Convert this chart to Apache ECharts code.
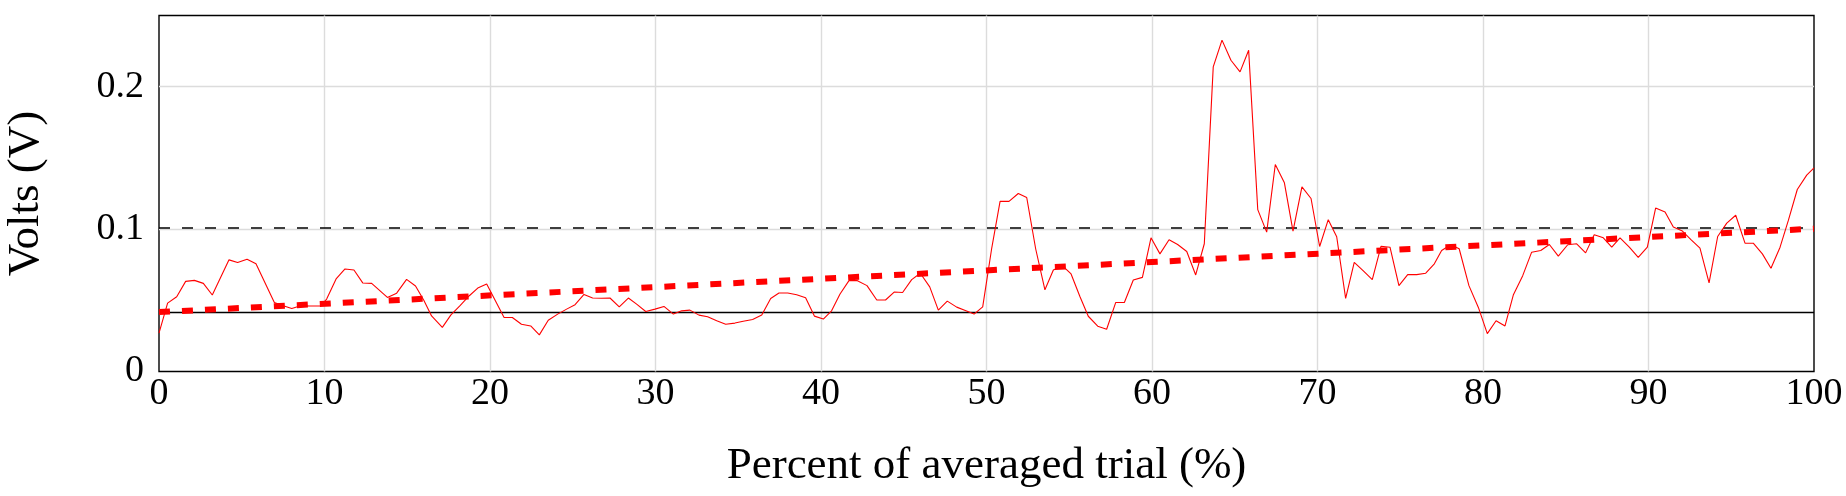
<!DOCTYPE html>
<html>
<head>
<meta charset="utf-8">
<script src="https://cdn.jsdelivr.net/npm/echarts@6/dist/echarts.min.js"></script>
<style>
html,body{margin:0;padding:0;background:#fff;}
#chart{width:1846px;height:496px;}
</style>
</head>
<body>
<div id="chart"></div>
<script>
// Percent of averaged trial (%)
const xs = [0,0.52,1.07,1.61,2.14,2.68,3.22,4.23,4.75,5.32,5.86,6.97,7.51,8.02,8.56,9.1,9.77,10.13,10.7,11.24,11.78,12.31,12.85,13.8,14.36,14.96,15.5,16.0,16.47,17.12,17.64,18.19,18.75,19.26,19.8,20.85,21.35,21.9,22.46,22.98,23.52,24.09,24.63,25.14,25.68,26.2,26.75,27.25,27.81,28.36,28.86,29.41,29.97,30.51,31.08,31.58,32.08,32.63,33.15,33.7,34.24,34.8,35.3,35.87,36.42,36.96,37.46,37.99,38.53,39.07,39.6,40.14,40.64,41.15,41.69,42.2,42.78,43.37,43.9,44.42,44.93,45.48,46.0,46.57,47.09,47.63,48.2,48.72,49.25,49.77,50.31,50.82,51.36,51.92,52.43,52.97,53.53,54.04,54.58,55.11,55.65,56.15,56.72,57.26,57.81,58.33,58.87,59.42,59.94,60.48,61.03,61.55,62.1,62.64,63.16,63.7,64.23,64.77,65.32,65.84,66.39,66.93,67.45,68.0,68.52,69.06,69.61,70.13,70.65,71.16,71.7,72.22,72.77,73.31,73.84,74.38,74.92,75.45,75.99,76.54,77.06,77.5,78.05,78.56,79.15,79.72,80.26,80.79,81.33,81.83,82.4,82.94,83.49,84.01,84.55,85.12,85.66,86.2,86.72,87.27,87.78,88.28,88.84,89.38,89.93,90.43,91.0,91.5,92.05,92.58,93.11,93.66,94.18,94.73,95.27,95.83,96.33,96.88,97.4,97.95,98.45,98.99,99.56,100];
// Volts (V)
const volts = [0.027,0.048,0.0525,0.0633,0.064,0.0619,0.0537,0.0784,0.0765,0.0788,0.0756,0.0485,0.0462,0.0443,0.0462,0.046,0.046,0.0509,0.065,0.072,0.0713,0.0622,0.0619,0.052,0.055,0.0647,0.060,0.050,0.039,0.031,0.0398,0.0462,0.0532,0.0586,0.0615,0.0379,0.0379,0.0332,0.032,0.0257,0.036,0.0403,0.0438,0.0469,0.0541,0.0516,0.0514,0.0516,0.0454,0.0516,0.0473,0.0421,0.0438,0.0457,0.0403,0.0426,0.0431,0.0396,0.0384,0.0356,0.0332,0.034,0.0353,0.0365,0.0396,0.0513,0.0551,0.0551,0.0539,0.0518,0.0389,0.0368,0.0426,0.0544,0.0638,0.0638,0.0603,0.0502,0.0502,0.0558,0.0555,0.0645,0.069,0.0594,0.0431,0.0494,0.0452,0.0428,0.0403,0.0454,0.0862,0.1195,0.1195,0.125,0.1222,0.0862,0.0574,0.0713,0.0744,0.0685,0.0525,0.0388,0.0318,0.0297,0.0485,0.0485,0.0643,0.0661,0.0939,0.0826,0.0925,0.0892,0.0843,0.0678,0.0897,0.2139,0.2327,0.2186,0.2104,0.2256,0.1137,0.0979,0.1454,0.1325,0.0986,0.1296,0.1215,0.0878,0.1066,0.0946,0.0513,0.0767,0.0706,0.0645,0.088,0.0873,0.0603,0.068,0.068,0.069,0.0756,0.085,0.089,0.0862,0.0603,0.045,0.0266,0.0356,0.032,0.0537,0.0673,0.0838,0.085,0.0892,0.081,0.089,0.0897,0.0833,0.096,0.0939,0.0873,0.0939,0.0873,0.0802,0.0873,0.1148,0.112,0.1014,0.0986,0.0925,0.0866,0.0622,0.0948,0.1042,0.1097,0.0901,0.0901,0.0826,0.0725,0.0873,0.1061,0.1278,0.1379,0.143];
// Linear trend (start, end)
const trendX = [0, 100];
const trendY = [0.0417, 0.1003];
// Horizontal reference levels
const baseline = 0.0414;
const threshold = 0.1007;
// Axis ticks
const xTicks = [0,10,20,30,40,50,60,70,80,90,100];
const yTicks = [0, 0.1, 0.2];

const FONT = '"Liberation Serif", "DejaVu Serif", serif';
const chart = echarts.init(document.getElementById('chart'), null, {renderer: 'canvas'});

const signal = xs.map((x, i) => [x, volts[i]]);
const trend = trendX.map((x, i) => [x, trendY[i]]);
const hLine = v => [[xTicks[0], v], [xTicks[xTicks.length - 1], v]];

chart.setOption({
  animation: false,
  backgroundColor: '#ffffff',
  grid: {
    left: 159, right: 32, top: 15.5, bottom: 124.5,
    show: true, borderColor: '#000', borderWidth: 1.4, backgroundColor: 'transparent',
    containLabel: false, outerBoundsMode: 'none'
  },
  xAxis: {
    type: 'value', min: 0, max: 100, interval: 10,
    name: 'Percent of averaged trial (%)', nameLocation: 'middle', nameGap: 72,
    nameTextStyle: {fontFamily: FONT, fontSize: 45, color: '#000'},
    axisLine: {show: false}, axisTick: {show: false},
    axisLabel: {fontFamily: FONT, fontSize: 38, color: '#000', margin: 4,
      formatter: v => xTicks.includes(v) ? String(v) : ''},
    splitLine: {show: true, showMinLine: false, showMaxLine: false, lineStyle: {color: '#dcdcdc', width: 1.4}}
  },
  yAxis: {
    type: 'value', min: 0, max: 0.25, interval: 0.1,
    name: 'Volts (V)', nameLocation: 'middle', nameGap: 110, nameRotate: 90,
    nameTextStyle: {fontFamily: FONT, fontSize: 45, color: '#000'},
    axisLine: {show: false}, axisTick: {show: false},
    axisLabel: {fontFamily: FONT, fontSize: 38, color: '#000', margin: 15, showMaxLabel: false,
      formatter: v => {
        const t = yTicks.find(k => Math.abs(k - v) < 1e-9);
        return t === undefined ? '' : String(t);
      }},
    splitLine: {show: true, showMinLine: false, showMaxLine: false, lineStyle: {color: '#dcdcdc', width: 1.4}}
  },
  series: [
    {
      type: 'line', data: signal, showSymbol: false, z: 3,
      lineStyle: {color: '#ff0000', width: 1.1}
    },
    {
      type: 'line', data: hLine(baseline), showSymbol: false, z: 2,
      lineStyle: {color: '#000', width: 1.5}
    },
    {
      type: 'line', data: hLine(threshold), showSymbol: false, z: 2,
      lineStyle: {color: '#000', width: 1.5, type: [11, 12]}
    },
    {
      type: 'line', data: trend, showSymbol: false, z: 4,
      lineStyle: {color: '#ff0000', width: 6, type: [11, 12], cap: 'butt'}
    }
  ]
});
</script>
</body>
</html>
